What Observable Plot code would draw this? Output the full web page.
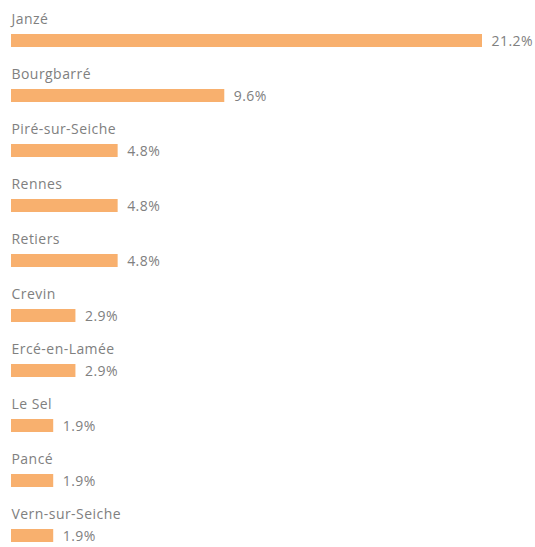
<!DOCTYPE html>
<html><head><meta charset="utf-8">
<script src="https://cdn.jsdelivr.net/npm/d3@7"></script>
<script src="https://cdn.jsdelivr.net/npm/@observablehq/plot@0.6"></script>
<style>body{margin:0;background:#fff;} svg{display:block;} svg text{letter-spacing:0.45px;}</style>
</head><body><div id="chart"></div>
<script>
const communes = ["Janzé","Bourgbarré","Piré-sur-Seiche","Rennes","Retiers","Crevin","Ercé-en-Lamée","Le Sel","Pancé","Vern-sur-Seiche"];
const shares = [21.2, 9.6, 4.8, 4.8, 4.8, 2.9, 2.9, 1.9, 1.9, 1.9];
const labels = ["21.2%","9.6%","4.8%","4.8%","4.8%","2.9%","2.9%","1.9%","1.9%","1.9%"];
const data = communes.map((c,i)=>({commune:c, share:shares[i], label:labels[i]}));
const chart = Plot.plot({
  width: 535, height: 547,
  margin: 0,
  style: {fontFamily: "'Open Sans', sans-serif", background: "#fff"},
  x: {domain: [0, 21.2], range: [11, 482], axis: null},
  y: {domain: communes, range: [12.4, 564.4], padding: 0, axis: null},
  marks: [
    Plot.barX(data, {x: "share", y: "commune", fill: "#F8B06E", insetTop: 21, insetBottom: 21}),
    Plot.text(data, {x: 0, y: "commune", text: "commune", textAnchor: "start", dy: -21, fontSize: 14, fill: "#808080"}),
    Plot.text(data, {x: "share", y: "commune", text: "label", textAnchor: "start", dx: 9, dy: 1, fontSize: 14, fill: "#808080"})
  ]
});
document.getElementById("chart").append(chart);
</script></body></html>
